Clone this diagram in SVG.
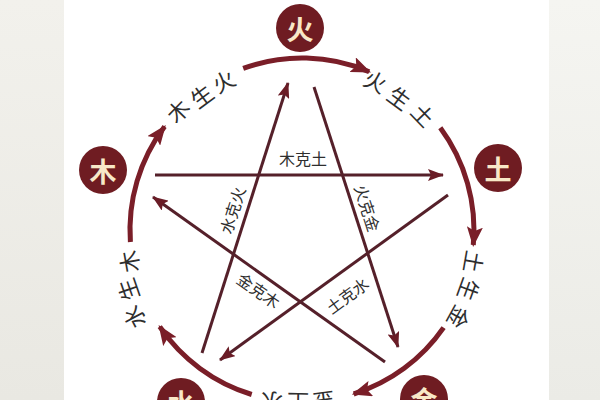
<svg xmlns="http://www.w3.org/2000/svg" width="600" height="400" viewBox="0 0 600 400">
  <style>
    .ring { fill: none; stroke: #7a1e28; stroke-width: 5; }
    .star { fill: none; stroke: #55202a; stroke-width: 3; }
    .node circle { fill: #6f1c22; }
    .node text { font-family: "Noto Sans CJK SC", "Noto Sans", sans-serif; font-size: 27px; font-weight: bold; fill: #f8e8c8; text-anchor: middle; dominant-baseline: central; }
    .rl { font-family: "Noto Sans CJK SC", "Noto Sans", sans-serif; font-size: 22px; fill: #2e2e2e; text-anchor: middle; dominant-baseline: central; }
    .sl { font-family: "Noto Sans CJK SC", "Noto Sans", sans-serif; font-size: 16px; fill: #2e2e2e; text-anchor: middle; dominant-baseline: central; }
  </style>
  <defs>
    <marker id="ah" markerUnits="userSpaceOnUse" markerWidth="20" markerHeight="16" viewBox="0 0 20 16" refX="18" refY="8" orient="auto">
      <path d="M0,0 L20,8 L0,16 L4,8 Z" fill="#7a1e28"/>
    </marker>
    <marker id="as" markerUnits="userSpaceOnUse" markerWidth="16" markerHeight="12" viewBox="0 0 16 12" refX="15" refY="6" orient="auto">
      <path d="M0,0 L16,6 L0,12 L3,6 Z" fill="#6a1c26"/>
    </marker>
    <linearGradient id="lg" x1="0" y1="0" x2="0" y2="1">
      <stop offset="0" stop-color="#f2f1ec"/>
      <stop offset="1" stop-color="#e9e8e2"/>
    </linearGradient>
    <linearGradient id="rg" x1="0" y1="0" x2="0" y2="1">
      <stop offset="0" stop-color="#f5f5f1"/>
      <stop offset="1" stop-color="#ebebe6"/>
    </linearGradient>
  </defs>

  <rect x="0" y="0" width="600" height="400" fill="#ffffff"/>
  <rect x="0" y="0" width="64" height="400" fill="url(#lg)"/>
  <rect x="549" y="0" width="51" height="400" fill="url(#rg)"/>

  <g id="connectors">
    <!-- generating cycle (ring) -->
    <path class="ring" d="M243.2,68.4 A172,172 0 0 1 369.2,71.7" marker-end="url(#ah)"/>
    <path class="ring" d="M440.3,127.7 A172,172 0 0 1 473.3,245.0" marker-end="url(#ah)"/>
    <path class="ring" d="M443.6,327.7 A172,172 0 0 1 353.7,394.0" marker-end="url(#ah)"/>
    <path class="ring" d="M251.7,394.5 A172,172 0 0 1 159.7,326.7" marker-end="url(#ah)"/>
    <path class="ring" d="M130.4,242.0 A172,172 0 0 1 164.6,126.5" marker-end="url(#ah)"/>
    <!-- controlling cycle (star) -->
    <line class="star" x1="155" y1="175" x2="443" y2="175" marker-end="url(#as)"/>
    <line class="star" x1="202" y1="353" x2="288" y2="83" marker-end="url(#as)"/>
    <line class="star" x1="314" y1="87" x2="398" y2="347" marker-end="url(#as)"/>
    <line class="star" x1="448" y1="195" x2="220" y2="360" marker-end="url(#as)"/>
    <line class="star" x1="385" y1="362" x2="153" y2="197" marker-end="url(#as)"/>
  </g>

  <g id="ring-labels">
    <text class="rl" transform="translate(177,110) rotate(-46)">木</text>
    <text class="rl" transform="translate(201,95) rotate(-36.5)">生</text>
    <text class="rl" transform="translate(223,80) rotate(-28)">火</text>

    <text class="rl" transform="translate(376,80) rotate(26)">火</text>
    <text class="rl" transform="translate(400,97) rotate(36)">生</text>
    <text class="rl" transform="translate(424,114) rotate(46)">土</text>

    <text class="rl" transform="translate(475,262) rotate(100)">土</text>
    <text class="rl" transform="translate(470,290) rotate(110)">生</text>
    <text class="rl" transform="translate(460,318) rotate(119)">金</text>

    <text class="rl" transform="translate(324,403) rotate(173)">金</text>
    <text class="rl" transform="translate(298,404) rotate(181)">生</text>
    <text class="rl" transform="translate(271,403) rotate(190)">水</text>

    <text class="rl" transform="translate(133,318) rotate(242)">水</text>
    <text class="rl" transform="translate(127,290) rotate(251)">生</text>
    <text class="rl" transform="translate(128,262) rotate(260)">木</text>
  </g>

  <g id="star-labels">
    <text class="sl" x="303" y="158">木克土</text>
    <text class="sl" transform="translate(232,210) rotate(-72.3)">水克火</text>
    <text class="sl" transform="translate(368,208) rotate(72)">火克金</text>
    <text class="sl" transform="translate(259,290) rotate(35)">金克木</text>
    <text class="sl" transform="translate(347,295) rotate(-36)">土克水</text>
  </g>

  <g id="node-fire" class="node"><circle cx="300" cy="28" r="24"/><text x="300" y="28">火</text></g>
  <g id="node-earth" class="node"><circle cx="498" cy="168" r="24"/><text x="498" y="168">土</text></g>
  <g id="node-wood" class="node"><circle cx="103" cy="170" r="24"/><text x="103" y="170">木</text></g>
  <g id="node-water" class="node"><circle cx="181" cy="402" r="24"/><text x="181" y="402">水</text></g>
  <g id="node-metal" class="node"><circle cx="424" cy="399" r="24"/><text x="424" y="399">金</text></g>
</svg>
